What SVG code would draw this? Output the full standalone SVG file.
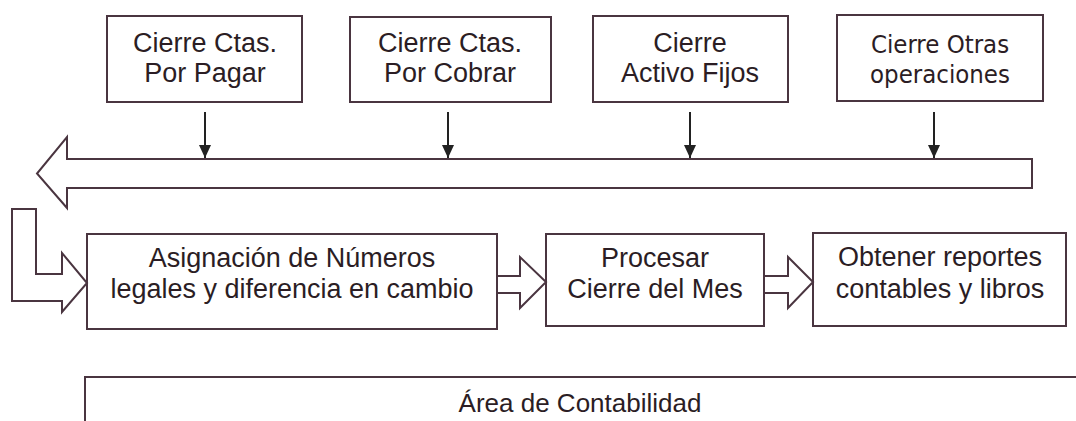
<svg xmlns="http://www.w3.org/2000/svg" width="1076" height="421" viewBox="0 0 1076 421">
<style>
.box{fill:#fff;stroke:#4a3540;stroke-width:2}
.blk{fill:#fff;stroke:#4a3540;stroke-width:2;stroke-linejoin:miter}
.t{font-family:"Liberation Sans",Arial,sans-serif;font-size:27px;fill:#2b1d24;text-anchor:middle}
.t2{font-family:"DejaVu Sans Condensed","DejaVu Sans",sans-serif;font-size:25.5px;fill:#2b1d24;text-anchor:middle}
.con{stroke:#222;stroke-width:2;fill:none}
</style>
<defs>
<marker id="ah" markerWidth="13" markerHeight="12" refX="13" refY="6" orient="auto" markerUnits="userSpaceOnUse" viewBox="0 0 13 12">
<path d="M0,0 L13,6 L0,12 Z" fill="#222"/>
</marker>
</defs>
<rect width="1076" height="421" fill="#fff"/>

<g id="n1"><rect class="box" x="107" y="16" width="195" height="86"/><text class="t" x="205" y="52">Cierre Ctas.</text><text class="t" x="205" y="82">Por Pagar</text></g>
<g id="n2"><rect class="box" x="350" y="17" width="201" height="85"/><text class="t" x="450" y="52">Cierre Ctas.</text><text class="t" x="450" y="82">Por Cobrar</text></g>
<g id="n3"><rect class="box" x="593" y="16" width="195" height="86"/><text class="t" x="690" y="52">Cierre</text><text class="t" x="690" y="82">Activo Fijos</text></g>
<g id="n4"><rect class="box" x="837" y="15" width="206" height="86"/><text class="t2" x="940" y="53">Cierre Otras</text><text class="t2" x="940" y="83">operaciones</text></g>

<g id="n5"><rect class="box" x="87" y="234" width="410" height="95"/><text class="t" x="292" y="267">Asignación de Números</text><text class="t" x="292" y="298">legales y diferencia en cambio</text></g>
<g id="n6"><rect class="box" x="546" y="234" width="218" height="92"/><text class="t" x="655" y="267">Procesar</text><text class="t" x="655" y="298">Cierre del Mes</text></g>
<g id="n7"><rect class="box" x="813" y="233" width="253" height="93"/><text class="t" x="940" y="266">Obtener reportes</text><text class="t" x="940" y="298">contables y libros</text></g>

<g id="area"><rect class="box" x="85" y="377" width="1100" height="100"/><text class="t" x="580" y="412" style="font-size:26px">Área de Contabilidad</text></g>

<g id="connectors">
<polygon class="blk" points="1032,159 67,159 67,137 37,173.5 67,208 67,188 1032,188"/>
<polygon class="blk" points="12,209 36,209 36,274 62,274 62,253 87,283 62,312 62,301 12,301"/>
<polygon class="blk" points="497,276 520,276 520,257 546,282 520,308 520,293 497,293"/>
<polygon class="blk" points="764,276 788,276 788,257 813,282 788,308 788,293 764,293"/>
<line class="con" x1="205" y1="112" x2="205" y2="158" marker-end="url(#ah)"/>
<line class="con" x1="448" y1="112" x2="448" y2="158" marker-end="url(#ah)"/>
<line class="con" x1="690" y1="112" x2="690" y2="158" marker-end="url(#ah)"/>
<line class="con" x1="934" y1="112" x2="934" y2="158" marker-end="url(#ah)"/>
</g>
</svg>
